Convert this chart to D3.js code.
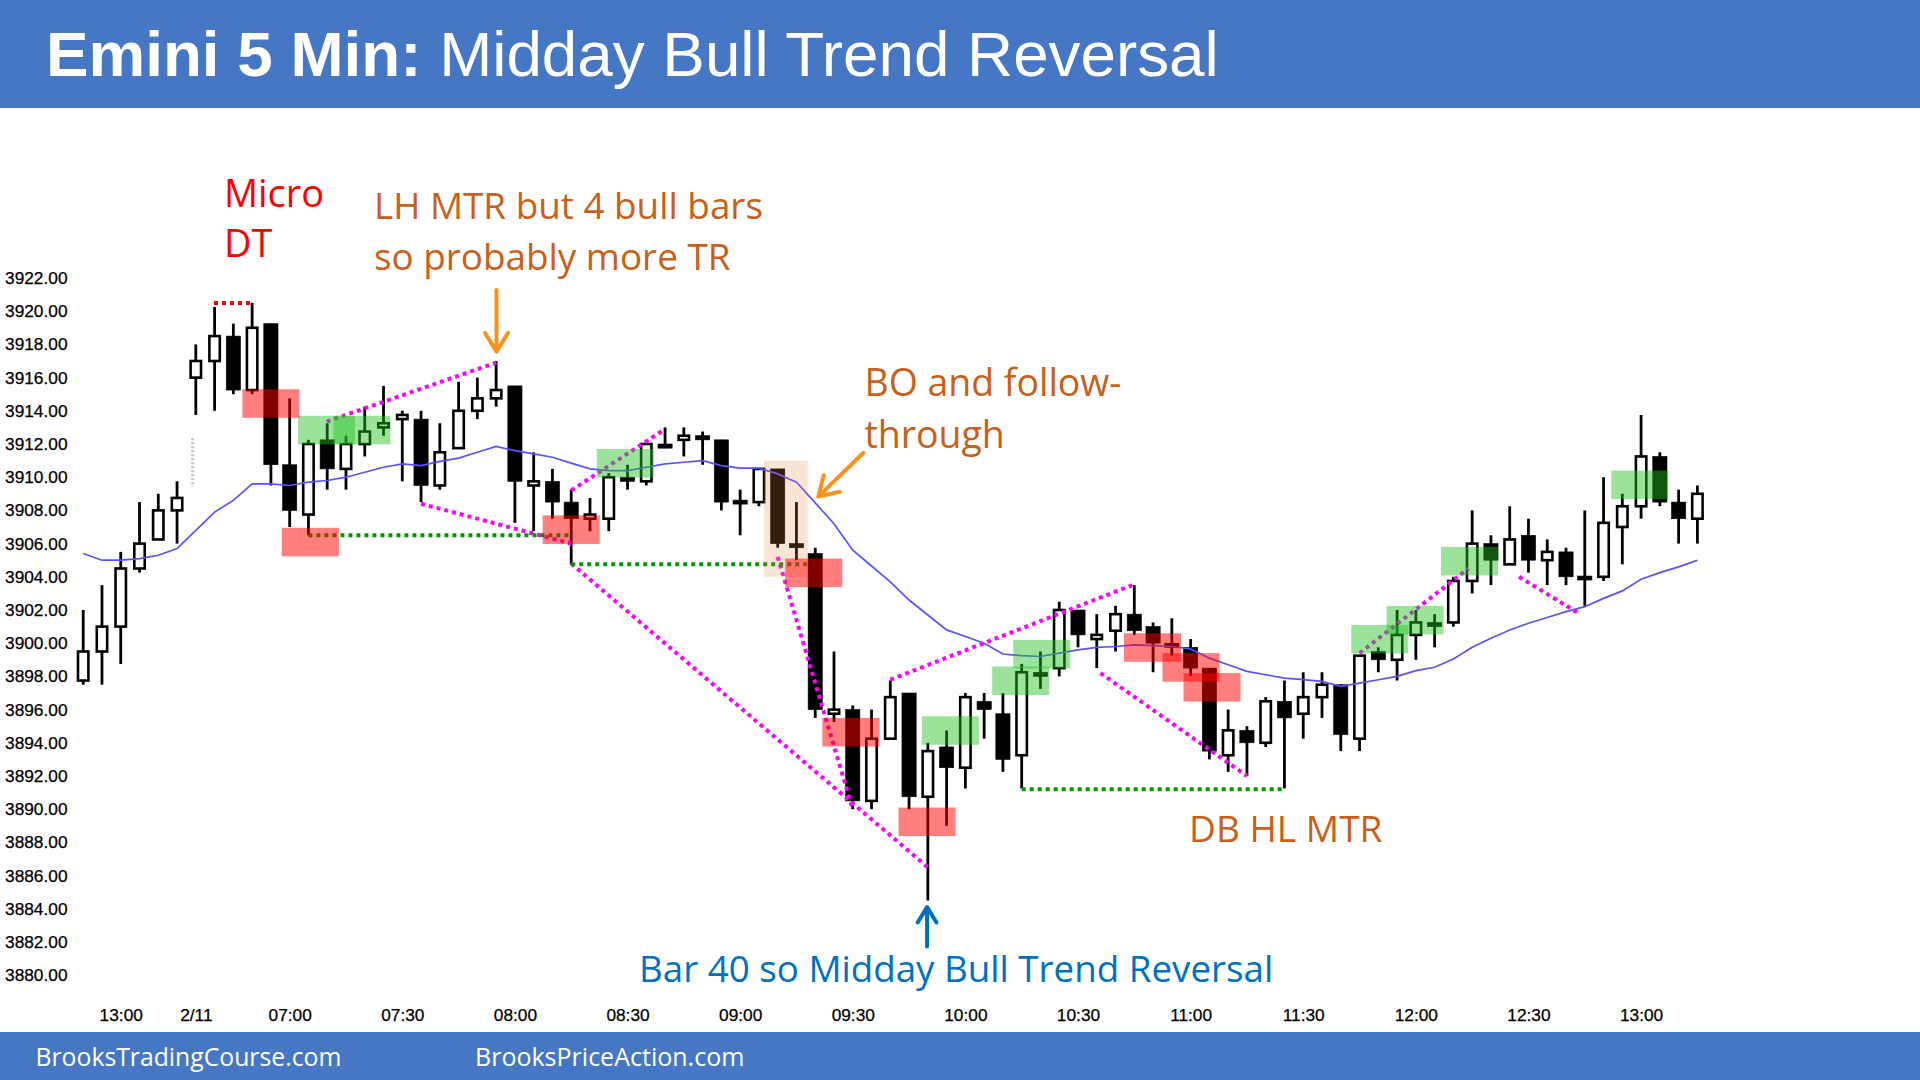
<!DOCTYPE html>
<html><head><meta charset="utf-8">
<script src="https://cdn.jsdelivr.net/npm/d3@7"></script>
<style>
html,body{margin:0;padding:0;background:#fff;}
svg{display:block;}
</style></head><body>
<svg id="chart" width="1920" height="1080"></svg>
<script>
// ---------- DATA ----------
const times = ["12:50","12:55","13:00","13:05","13:10","13:15",
"06:35","06:40","06:45","06:50","06:55","07:00","07:05","07:10","07:15","07:20","07:25","07:30","07:35","07:40","07:45","07:50","07:55",
"08:00","08:05","08:10","08:15","08:20","08:25","08:30","08:35","08:40","08:45","08:50","08:55",
"09:00","09:05","09:10","09:15","09:20","09:25","09:30","09:35","09:40","09:45","09:50","09:55",
"10:00","10:05","10:10","10:15","10:20","10:25","10:30","10:35","10:40","10:45","10:50","10:55",
"11:00","11:05","11:10","11:15","11:20","11:25","11:30","11:35","11:40","11:45","11:50","11:55",
"12:00","12:05","12:10","12:15","12:20","12:25","12:30","12:35","12:40","12:45","12:50","12:55",
"13:00","13:05","13:10","13:15"];
const opens = [3897.75,3899.5,3901,3904.5,3906.25,3908,
3916,3917,3918.5,3915.25,3919.25,3910.75,3907.75,3912.25,3910.5,3912,3913,3913.5,3913.5,3909.5,3911.75,3914,3914.75,
3915.5,3909.5,3909.75,3908.5,3907.5,3907.5,3910,3909.75,3912,3912.25,3912.5,3912.25,
3908.6,3908.5,3910.5,3906,3905.4,3895.75,3896,3890.5,3894.25,3897,3890.75,3893.75,
3892.5,3896.5,3895.75,3893.25,3898.25,3898.5,3902,3900.25,3900.75,3901.75,3901,3900,
3899.75,3898.5,3893.25,3894.75,3894,3896.5,3895.75,3896.75,3897.5,3894.25,3899.5,3899,
3900.5,3901.25,3901.25,3903.75,3906,3904.75,3906.5,3905,3905.5,3904,3904,3907,
3908.25,3911.25,3908.5,3907.5];
const highs = [3902,3903.5,3905.5,3908.5,3909,3909.75,
3918,3920.25,3919.25,3920.5,3919.25,3914.75,3912.25,3913.25,3912.5,3914.25,3915.5,3914,3914,3913.25,3915.75,3916,3917,
3915.5,3911.5,3910.5,3909.25,3908.75,3910.25,3910.75,3912,3913,3913,3912.75,3912.25,
3909.25,3910.5,3910.5,3908.5,3905.75,3899.5,3896.25,3896,3897.75,3897,3894,3894.75,
3897,3897,3897,3898.75,3899.5,3902.5,3902,3901.75,3902.25,3903.5,3901.25,3901.5,
3900.25,3898.5,3896,3895,3896.75,3897.75,3898.25,3898.25,3897.5,3899.25,3899.75,3902,
3902,3901.75,3904,3908,3906.5,3908.25,3907.5,3906.25,3905.75,3908,3910,3909,
3913.75,3911.5,3909.25,3909.5];
const lows = [3897.5,3897.5,3898.75,3904.25,3906.25,3906,
3913.75,3914,3915,3915,3909.5,3907,3906.5,3909.25,3909.25,3911.25,3912.5,3909.75,3908.5,3909.25,3911.75,3913.5,3914.25,
3907.25,3906.75,3907.5,3904.75,3906.75,3906.75,3909.25,3909.5,3911.75,3911.25,3910.75,3908,
3906.5,3908.25,3905.75,3905,3895.5,3895.25,3890,3890,3894.25,3890,3884.5,3889,
3891.25,3894.25,3892.25,3891.25,3897.25,3898,3899.75,3898.5,3899.5,3900.5,3898.25,3899.25,
3898,3893,3892.25,3892,3893.75,3891.25,3894.25,3895.5,3893.5,3893.5,3898.25,3897.75,
3899,3899.75,3901,3903,3903.5,3904.75,3904.25,3903.5,3903.5,3902.25,3903.75,3904.75,
3907.5,3908.25,3906,3906];
const closes = [3899.5,3901,3904.5,3906,3908,3908.75,
3917,3918.5,3915.25,3919,3910.75,3908,3912,3910.5,3912,3912.75,3913.25,3913.75,3909.5,3911.5,3914,3914.75,3915.25,
3909.75,3909.75,3908.5,3907.5,3907.75,3910,3909.75,3912,3911.75,3912.5,3912.25,3908.5,
3908.4,3910.5,3906,3905.75,3896,3896,3890.5,3894.25,3896.75,3890.75,3893.5,3892.5,
3896.75,3896,3893,3898.25,3898,3902,3900.5,3900.5,3901.75,3900.75,3900,3899.75,
3898.5,3893.5,3894.75,3894,3896.5,3895.5,3896.75,3897.5,3894.5,3899.25,3899,3900.5,
3901.25,3901,3903.75,3906,3905,3906.25,3905,3905.5,3904,3903.85,3907.25,3908.25,
3911.25,3908.5,3907.5,3909];
const ema = [3905.4,3905.0,3905.0,3905.1,3905.3,3905.7,
3906.8,3907.9,3908.6,3909.6,3909.6,3909.5,3909.7,3909.8,3910.0,3910.3,3910.6,3910.8,3910.7,3910.95,3911.15,3911.5,3911.85,
3911.6,3911.4,3911.2,3910.85,3910.5,3910.4,3910.4,3910.6,3910.8,3910.9,3911.0,3910.7,
3910.55,3910.55,3910.2,3909.7,3908.45,3907.2,3905.6,3904.65,3903.7,3902.6,3901.7,3900.8,
3900.4,3900.0,3899.35,3899.25,3899.2,3899.4,3899.6,3899.75,3899.8,3899.9,3899.85,3899.8,
3899.65,3899.1,3898.7,3898.3,3898.1,3897.9,3897.8,3897.7,3897.4,3897.6,3897.8,3898.0,
3898.35,3898.55,3899.05,3899.75,3900.3,3900.8,3901.2,3901.55,3901.9,3902.2,3902.7,3903.15,
3903.85,3904.25,3904.6,3905.0];

const yTicks = [3880,3882,3884,3886,3888,3890,3892,3894,3896,3898,3900,3902,3904,3906,3908,3910,3912,3914,3916,3918,3920,3922];
const xTickIdx = [2,6,11,17,23,29,35,41,47,53,59,65,71,77,83];
const xTickLabels = ["13:00","2/11","07:00","07:30","08:00","08:30","09:00","09:30","10:00","10:30","11:00","11:30","12:00","12:30","13:00"];

// annotation boxes: [bar index of centre, top price]
const redBoxes = [[10,3915.3],[12.1,3906.95],[26,3907.7],[38.92,3905.1],[40.9,3895.5],[44.96,3890.1],[56.97,3900.6],[59.02,3899.4],[60.14,3898.2]];
const greenBoxes = [[12.96,3913.7],[14.85,3913.7],[28.88,3911.7],[46.2,3895.6],[49.95,3898.6],[51.07,3900.2],[69.08,3901.1],[70.96,3902.25],[73.86,3905.8],[82.93,3910.4]];
const beigeBox = [36.27,38.6,3911,3904];
// dotted lines: [i1, p1, i2, p2]
const magentaLines = [[12.97,3913.35,22,3916.9],[18,3908.4,26,3906.0],[26,3909.2,31,3912.9],[26,3904.8,45,3886.5],
  [37,3905.2,41,3890.0],[43,3897.8,55.9,3903.5],[54.2,3898.2,62,3892.0],[68,3899.4,73.8,3904.5],[76.5,3904.0,79.75,3901.75]];
const greenLines = [[12,3906.5,26,3906.5],[26,3904.75,38.55,3904.75],[50,3891.2,64,3891.2]];
const redLines = [[6.97,3920.5,8.9,3920.5]];
const grayLines = [[5.83,3912.34,5.83,3909.43]];
// arrows: [i1,p1,i2(tip),p2(tip)]
const orangeArrows = [[22.02,3921.28,22.02,3917.56],[41.56,3911.46,39.16,3908.83]];
const blueArrows = [[44.96,3881.73,44.96,3884.1]];

// ---------- SCALES ----------
const svg = d3.select('#chart');
const x = d3.scaleLinear().domain([0, 86]).range([83.2, 1697.4]);
const y = d3.scaleLinear().domain([3880, 3922]).range([975.2, 278]);
const barStep = x(1) - x(0);
const ORANGE_TXT = '#c9601a';

// header & footer
svg.append('rect').attr('x',0).attr('y',0).attr('width',1920).attr('height',108).attr('fill','#4677c4');
svg.append('rect').attr('x',0).attr('y',1032).attr('width',1920).attr('height',48).attr('fill','#4677c4');

// axes
const AX = '"Liberation Sans", Arial, sans-serif';
const yAxis = d3.axisLeft(y).tickValues(yTicks).tickFormat(d3.format('.2f')).tickSize(0).tickPadding(0);
const gy = svg.append('g').attr('transform','translate(67.5,0)').call(yAxis);
gy.select('.domain').remove();
gy.selectAll('text').attr('font-family',AX).attr('font-size',17.3).attr('fill','#000')
  .attr('stroke','#000').attr('stroke-width',0.25);

const xAxis = d3.axisBottom(x).tickValues(xTickIdx).tickFormat((d,k)=>xTickLabels[k]).tickSize(0).tickPadding(0);
const gx = svg.append('g').attr('transform','translate(0,1009)').call(xAxis);
gx.select('.domain').remove();
gx.selectAll('text').attr('font-family',AX).attr('font-size',17.3).attr('fill','#000')
  .attr('stroke','#000').attr('stroke-width',0.25);

// candles
const bars = times.map((t,i)=>({i, t, o:opens[i], h:highs[i], l:lows[i], c:closes[i]}));
const gc = svg.append('g');
gc.selectAll('line.wick').data(bars).join('line').attr('class','wick')
  .attr('x1',d=>x(d.i)).attr('x2',d=>x(d.i)).attr('y1',d=>y(d.h)).attr('y2',d=>y(d.l))
  .attr('stroke','#000').attr('stroke-width',2.8);
gc.selectAll('rect.body').data(bars).join('rect').attr('class','body')
  .each(function(d){
    const bull = d.c >= d.o;
    const top = y(Math.max(d.o,d.c)), bot = y(Math.min(d.o,d.c));
    const h = Math.max(bot-top, bull ? 3 : 4);
    const w = bull ? 10.4 : 14.2;
    d3.select(this).attr('x', x(d.i)-w/2).attr('y', bull ? top : top - (h-(bot-top))/2).attr('width', w).attr('height', h)
      .attr('fill', bull ? '#fff' : '#000').attr('stroke','#000').attr('stroke-width', bull ? 2.6 : 0.6);
  });

// EMA
svg.append('path').datum(ema).attr('fill','none').attr('stroke','#5555ff').attr('stroke-width',1.7)
  .attr('d', d3.line().x((d,i)=>x(i)).y(d=>y(d)));

// dotted lines
function dotted(data, color, w, dash){
  svg.append('g').selectAll('line').data(data).join('line')
    .attr('x1',d=>x(d[0])).attr('y1',d=>y(d[1])).attr('x2',d=>x(d[2])).attr('y2',d=>y(d[3]))
    .attr('stroke',color).attr('stroke-width',w).attr('stroke-dasharray',dash);
}
dotted(grayLines,'#c4c4c4',3,'2 2');
dotted(magentaLines,'#ff00ff',4,'4 4');
dotted(greenLines,'#009900',4,'4 4');
dotted(redLines,'#ff0000',4,'4 4');

// boxes
const boxH = y(0) - y(1.72);
function boxes(data, color, op){
  svg.append('g').selectAll('rect').data(data).join('rect')
    .attr('x',d=>x(d[0]) - 1.52*barStep).attr('y',d=>y(d[1])).attr('width',3.04*barStep).attr('height',boxH)
    .attr('fill',color).attr('fill-opacity',op);
}
svg.append('rect').attr('x',x(beigeBox[0])).attr('y',y(beigeBox[2])).attr('width',x(beigeBox[1])-x(beigeBox[0]))
  .attr('height',y(beigeBox[3])-y(beigeBox[2])).attr('fill','#e9823c').attr('fill-opacity',0.22);
boxes(greenBoxes,'#22c022',0.45);
boxes(redBoxes,'#ff0000',0.5);

// arrows
function arrows(data,color,w,len){
  data.forEach(a=>{
    const x1=x(a[0]), y1=y(a[1]), x2=x(a[2]), y2=y(a[3]);
    const ang = Math.atan2(y2-y1, x2-x1);
    const h1 = [x2 - len*Math.cos(ang-0.55), y2 - len*Math.sin(ang-0.55)];
    const h2 = [x2 - len*Math.cos(ang+0.55), y2 - len*Math.sin(ang+0.55)];
    svg.append('path').attr('d',`M${x1},${y1}L${x2},${y2}M${h1[0]},${h1[1]}L${x2},${y2}L${h2[0]},${h2[1]}`)
      .attr('fill','none').attr('stroke',color).attr('stroke-width',w).attr('stroke-linecap','round').attr('stroke-linejoin','round');
  });
}
arrows(orangeArrows,'#f7931e',4,22);
arrows(blueArrows,'#0070c0',4,18);

// text helper: fit font-size so first line matches target width
function addText(lines, x0, base0, gap, targetW, color, family, weight){
  const t = svg.append('text').attr('font-family',family).attr('font-size',40).attr('fill',color).attr('font-weight',weight||'normal');
  lines.forEach((s,k)=>t.append('tspan').attr('x',x0).attr('y',base0+k*gap).text(s));
  const w = t.select('tspan').node().getComputedTextLength();
  t.attr('font-size', 40*targetW/w);
  return t;
}
const ANN = '"Open Sans", "Noto Sans", sans-serif';
addText(['Micro','DT'],224,206.7,50.6,100,'#ff0000',ANN);
addText(['LH MTR but 4 bull bars','so probably more TR'],374,219.3,50.7,389,ORANGE_TXT,ANN);
addText(['BO and follow-','through'],864.5,396,51.5,257,ORANGE_TXT,ANN);
addText(['DB HL MTR'],1189,842,0,193.5,ORANGE_TXT,ANN);
addText(['Bar 40 so Midday Bull Trend Reversal'],639,982,0,634.5,'#0070c0',ANN);

// title
const title = svg.append('text').attr('x',46).attr('y',76).attr('font-family',AX)
  .attr('font-size',60).attr('fill','#fff');
title.append('tspan').attr('font-weight','bold').text('Emini 5 Min:');
title.append('tspan').text(' Midday Bull Trend Reversal');
const tw = title.node().getComputedTextLength();
title.attr('font-size', 60*1173/tw);

// footer
addText(['BrooksTradingCourse.com'],35.5,1066,0,306,'#fff',ANN);
addText(['BrooksPriceAction.com'],475,1066,0,269.5,'#fff',ANN);
</script>
</body></html>
